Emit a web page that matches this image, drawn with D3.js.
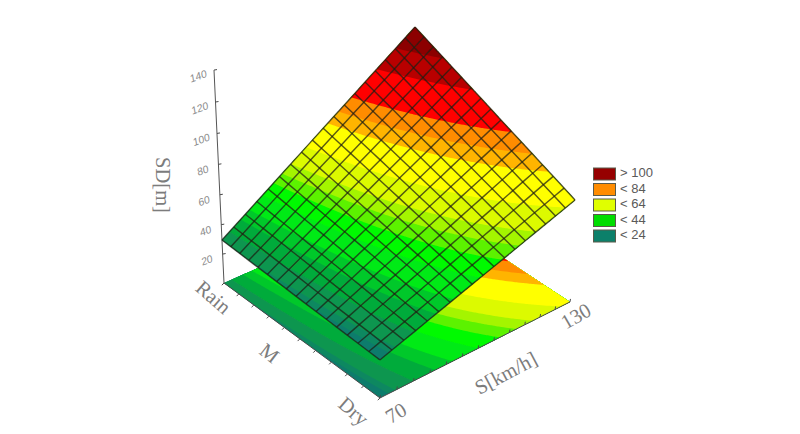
<!DOCTYPE html>
<html><head><meta charset="utf-8">
<script src="https://cdn.jsdelivr.net/npm/d3@7"></script>
<style>html,body{margin:0;padding:0;background:#fff;overflow:hidden}svg{display:block}</style>
</head><body><svg id="c" width="800" height="434" viewBox="0 0 800 434"></svg>
<script>
// ---- data ----
const speeds = [70, 80, 90, 100, 110, 120, 130];
const conditions = [0, 0.25, 0.5, 0.75, 1];           // 0 = Rain, 0.5 = M, 1 = Dry
const sdRain  = [29.6, 44.5, 59.5, 74.4, 89.3, 104.3, 119.2];
const sdWetM  = [28.6, 41.6, 54.7, 67.8, 80.8, 93.9, 107.0];
const sdMid   = [27.6, 38.8, 50.0, 61.2, 72.3, 83.5, 94.7];
const sdDryM  = [26.6, 35.9, 45.2, 54.5, 63.8, 73.1, 82.5];
const sdDry   = [25.6, 33.0, 40.5, 47.9, 55.3, 62.8, 70.2];
const sdRows  = [sdRain, sdWetM, sdMid, sdDryM, sdDry];
const bandLevels = [27.5, 29, 33, 38, 42, 48, 53, 57, 61, 68, 78, 83, 89, 101, 110];
const bandColors = ["#0e7c6c","#0c8860","#0a9650","#06ab3a","#02c82a","#00ea14","#00fa00","#5cf200","#a4f500","#dcfa00","#ffff00","#ffb400","#ff8c00","#ff0000","#b80000","#8c0000"];
const zTicks = [20, 40, 60, 80, 100, 120, 140];
const legendLabels = ["> 100", "< 84", "< 64", "< 44", "< 24"];
const legendColors = ["#960000", "#ff8c00", "#e0ff00", "#00dd00", "#0c806a"];
const meshCountS = 18;
const meshCountM = 16;
const speedTicks = d3.range(70, 131, 5);
const condTicks = d3.range(0, 1.001, 0.1);

// ---- scales & projection ----
const uOf = d3.scaleLinear().domain([70, 130]).range([0, 1]);
const vOf = d3.scaleLinear().domain([0, 1]).range([0, 1]);
function project(s, m, z) {
  const u = uOf(s), v = vOf(m);
  const w = 1 + 0.066*u - 0.0542*v - 0.0004*z;
  return [(224 + 217.3*u + 135.4*v - 0.157*z)/w, (283 - 70.9*u + 93.4*v - 1.549*z)/w];
}
const sI = d3.scaleLinear().domain(speeds).range(speeds.map((d,i)=>i)).clamp(true);
const mI = d3.scaleLinear().domain(conditions).range(conditions.map((d,i)=>i)).clamp(true);
function sdAt(s, m) {
  const a = sI(s), b = mI(m);
  const i = Math.min(Math.floor(a), speeds.length-2), j = Math.min(Math.floor(b), conditions.length-2);
  const fa = a-i, fb = b-j;
  return (sdRows[j][i]*(1-fa)+sdRows[j][i+1]*fa)*(1-fb) + (sdRows[j+1][i]*(1-fa)+sdRows[j+1][i+1]*fa)*fb;
}
// contouring mesh (rendering resolution only)
const NX = 121, NY = 121;
const gs = d3.scaleLinear().domain([0, NX-1]).range([70,130]);
const gm = d3.scaleLinear().domain([0, NY-1]).range([0,1]);
const field = new Float64Array(NX*NY);
for (let j=0;j<NY;j++) for (let i=0;i<NX;i++) field[j*NX+i] = sdAt(gs(i), gm(j));
const contourGen = d3.contours().size([NX,NY]).smooth(true).thresholds(bandLevels);
const polys = contourGen(Array.from(field));
const clampX = x => gs(Math.max(0, Math.min(NX-1, x-0.5)));
const clampY = y => gm(Math.max(0, Math.min(NY-1, y-0.5)));
function polyPath(geom, zfn) {
  let out = "";
  for (const poly of geom.coordinates) for (const ring of poly) {
    ring.forEach((p,k) => {
      const s = clampX(p[0]), m = clampY(p[1]);
      const q = project(s, m, zfn(s,m));
      out += (k?"L":"M")+q[0].toFixed(2)+","+q[1].toFixed(2);
    });
    out += "Z";
  }
  return out;
}
function quadPath(zfn){
  const pts=[];
  d3.range(0,NX,4).forEach(i=>pts.push([gs(i),0]));
  d3.range(0,NY,4).forEach(j=>pts.push([130,gm(j)]));
  d3.range(NX-1,-1,-4).forEach(i=>pts.push([gs(i),1]));
  d3.range(NY-1,-1,-4).forEach(j=>pts.push([70,gm(j)]));
  return d3.line()(pts.map(p=>project(p[0],p[1],zfn(p[0],p[1]))))+"Z";
}

const svg = d3.select("#c");
svg.append("defs").append("filter").attr("id","soft")
  .attr("x","-5%").attr("y","-5%").attr("width","110%").attr("height","110%")
  .append("feGaussianBlur").attr("stdDeviation",0.55);
const stageAll = svg.append("g");

function drawSurface(g, zfn){
  g.append("path").attr("d",quadPath(zfn)).attr("fill",bandColors[0]);
  polys.forEach((c,i)=>{
    g.append("path").attr("d",polyPath(c,zfn)).attr("fill",bandColors[i+1]).attr("fill-rule","evenodd");
  });
}
// floor
const floorG = stageAll.append("g").attr("filter","url(#soft)");
drawSurface(floorG, ()=>0);

// axes on the floor
const axisG = stageAll.append("g").attr("fill","none").attr("stroke","#4a4a4a").attr("stroke-width",1);
const line = d3.line();
axisG.append("path").attr("d",line(d3.range(0,1.01,0.1).map(m=>project(70,m,0))));
axisG.append("path").attr("d",line(speedTicks.map(s=>project(s,1,0))));
axisG.append("path").attr("d",line([0,140].map(z=>project(70,0,z)))).attr("stroke","#555");
condTicks.forEach(m=>{const p=project(70,m,0);axisG.append("path").attr("d",line([p,[p[0]-2.2,p[1]+2.2]]));});
speedTicks.forEach(s=>{const p=project(s,1,0);axisG.append("path").attr("d",line([p,[p[0]+0.5,p[1]-3]]));});
zTicks.forEach(z=>{const p=project(70,0,z);axisG.append("path").attr("d",line([p,[p[0]+3,p[1]-0.5]]));});

// surface
const surfG = stageAll.append("g").attr("filter","url(#soft)");
const zs = (s,m)=>sdAt(s,m);
drawSurface(surfG, zs);
const meshG = surfG.append("g").attr("fill","none").attr("stroke","#1e1e14").attr("stroke-opacity",0.72).attr("stroke-width",1.45);
// grid spacing narrows slightly away from the viewer
const nearWarp = p => 1.07*p/(1+0.07*p);
const meshS = i => 70 + 60*nearWarp(i/meshCountS);
const meshM = j => 1 - nearWarp(1 - j/meshCountM);
const iS = d3.range(meshCountS+1), iM = d3.range(meshCountM+1);
iS.forEach(i=>{
  meshG.append("path").attr("d",line(iM.map(j=>project(meshS(i),meshM(j),zs(meshS(i),meshM(j))))));
});
iM.forEach(j=>{
  meshG.append("path").attr("d",line(iS.map(i=>project(meshS(i),meshM(j),zs(meshS(i),meshM(j))))));
});

// z tick labels
const txt = stageAll.append("g");
zTicks.forEach(z=>{
  const p=project(70,0,z);
  txt.append("text").attr("transform",`translate(${p[0]-15.5},${p[1]+7}) rotate(-20) skewX(-10)`)
    .attr("text-anchor","middle").attr("dominant-baseline","middle")
    .attr("font-family","Liberation Sans").attr("font-size",10.5).attr("fill","#8a8a8a").text(z);
});
const serif = [
  ["SD[m]",161,185,90],["Rain",212,299,41],["M",268,355,38],["Dry",352,413,41],
  ["70",397,415,-31],["130",577,318,-30],["S[km/h]",507,375,-28]
];
serif.forEach(d=>{
  txt.append("text").attr("transform",`translate(${d[1]},${d[2]}) rotate(${d[3]})`)
    .attr("text-anchor","middle").attr("dominant-baseline","middle")
    .attr("font-family","Liberation Serif").attr("font-size",20.5).attr("fill","#7c7c7c").text(d[0]);
});
// legend
const legY = d3.scalePoint().domain(legendLabels).range([168,230]);
legendLabels.forEach((l,i)=>{
  txt.append("rect").attr("x",593.5).attr("y",legY(l)).attr("width",22).attr("height",12)
    .attr("fill",legendColors[i]).attr("stroke","#5a5a4a").attr("stroke-width",1);
  txt.append("text").attr("x",620).attr("y",legY(l)+6).attr("dominant-baseline","middle")
    .attr("font-family","Liberation Sans").attr("font-size",13).attr("fill","#5a5a5a").text(l);
});
</script></body></html>
